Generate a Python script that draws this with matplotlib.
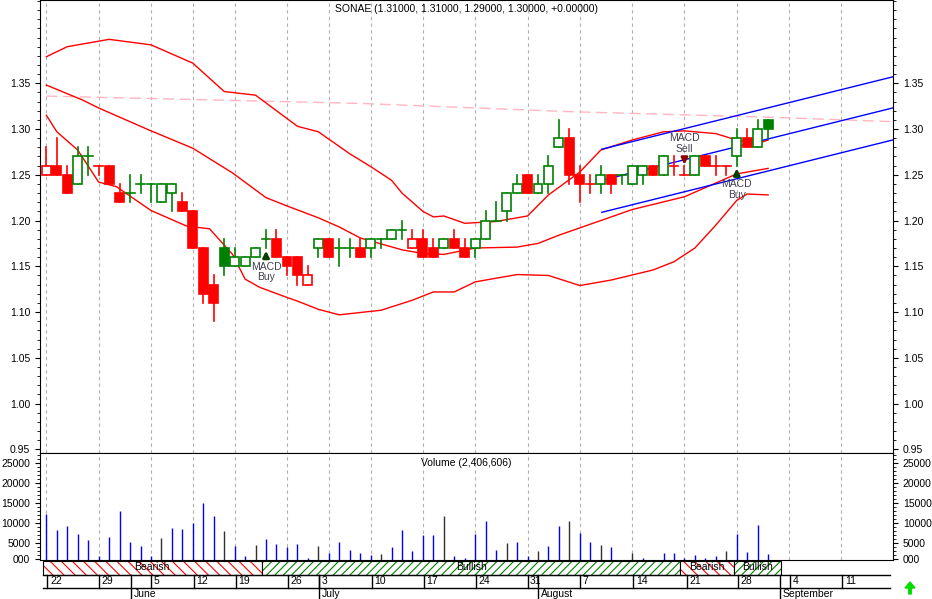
import matplotlib
matplotlib.use("Agg")
import matplotlib.pyplot as plt
from matplotlib.patches import Rectangle, FancyArrow
import numpy as np

plt.rcParams['font.family'] = 'Liberation Sans'
matplotlib.rcParams['hatch.linewidth'] = 0.8

title = "SONAE (1.31000, 1.31000, 1.29000, 1.30000, +0.00000)"
vol_title = "Volume (2,406,606)"

opens  = [1.25,1.26,1.25,1.24,1.27,1.26,1.26,1.23,1.23,1.24,1.24,1.22,1.23,1.22,1.21,1.17,1.13,1.17,1.15,1.15,
          1.16,1.18,1.18,1.16,1.16,1.13,1.17,1.18,1.17,1.17,1.17,1.17,1.18,1.18,1.19,1.17,1.18,1.17,1.17,1.18,
          1.17,1.17,1.18,1.20,1.21,1.23,1.25,1.23,1.24,1.28,1.29,1.25,1.24,1.24,1.25,1.25,1.24,1.25,1.26,1.25,
          1.26,1.25,1.25,1.27,1.26,1.26,1.27,1.29,1.28,1.31]
highs  = [1.28,1.29,1.26,1.28,1.28,1.26,1.26,1.24,1.25,1.25,1.24,1.24,1.24,1.23,1.21,1.17,1.14,1.18,1.17,1.16,
          1.17,1.19,1.19,1.16,1.16,1.15,1.18,1.18,1.18,1.18,1.18,1.18,1.18,1.19,1.20,1.19,1.19,1.18,1.18,1.19,
          1.18,1.18,1.21,1.22,1.23,1.25,1.25,1.25,1.27,1.31,1.30,1.26,1.25,1.26,1.25,1.25,1.26,1.26,1.26,1.27,
          1.27,1.26,1.27,1.27,1.27,1.26,1.30,1.30,1.31,1.31]
lows   = [1.25,1.25,1.23,1.24,1.25,1.25,1.24,1.22,1.22,1.23,1.22,1.22,1.21,1.21,1.17,1.11,1.09,1.14,1.15,1.15,
          1.16,1.17,1.16,1.14,1.13,1.13,1.16,1.16,1.15,1.16,1.16,1.16,1.17,1.18,1.18,1.17,1.16,1.16,1.17,1.17,
          1.16,1.16,1.18,1.20,1.20,1.23,1.23,1.23,1.23,1.28,1.24,1.22,1.23,1.23,1.23,1.24,1.24,1.24,1.25,1.25,
          1.25,1.25,1.25,1.26,1.25,1.25,1.26,1.28,1.28,1.29]
closes = [1.26,1.25,1.23,1.27,1.27,1.26,1.24,1.22,1.23,1.24,1.24,1.24,1.24,1.21,1.17,1.12,1.11,1.15,1.16,1.16,
          1.17,1.18,1.16,1.15,1.14,1.14,1.18,1.16,1.17,1.17,1.16,1.18,1.18,1.19,1.19,1.18,1.16,1.16,1.18,1.17,
          1.16,1.18,1.20,1.20,1.23,1.24,1.23,1.24,1.26,1.29,1.25,1.24,1.24,1.25,1.24,1.25,1.26,1.26,1.25,1.27,
          1.26,1.25,1.27,1.26,1.26,1.26,1.29,1.28,1.30,1.30]
day_dir = "rrrggrrrgggggrrrrgggggrrrrgrggrggggrrrgrrgggggrgggrrrgrgggrgrrgrrrgrgg"

volumes = [12260,8300,9270,7340,5650,1770,6610,12900,5160,4190,1770,6130,8790,8550,10000,15080,11690,8060,4190,1770,
           4440,5890,4680,3950,4680,1370,4190,2500,5160,3230,2500,2020,2260,3950,8300,2980,7100,7100,11690,1770,
           1130,7340,10480,3230,4920,5160,1770,2980,4190,9270,10480,7580,5160,4440,3950,300,2500,1370,300,2500,
           2500,1370,2020,1370,1770,2980,7340,2740,9520,2260]
vol_dark = [11,17,20,26,32,38,44,47,50,53,56,65]

band_upper_x = [0,2,6,10,14,17,20,24,26,29,31,33,34,36,37,38,40,43,46,48,51,53,56,59,61,64,66,68,69]
band_upper_y = [1.379,1.390,1.398,1.392,1.372,1.341,1.337,1.303,1.297,1.273,1.259,1.244,1.230,1.210,1.204,1.205,
                1.197,1.199,1.205,1.228,1.253,1.277,1.288,1.297,1.298,1.295,1.288,1.284,1.288]
band_mid_x = [0,3.4,5,9.8,14,17.8,21,23,26,28,30,34,36,38,41,45,47,49,52,56,61,64,66,69]
band_mid_y = [1.348,1.332,1.323,1.299,1.279,1.252,1.225,1.216,1.203,1.193,1.181,1.168,1.164,1.163,1.170,1.171,
              1.175,1.184,1.196,1.212,1.226,1.241,1.251,1.257]
band_low_x = [0,1,3,5,6.7,10,13.4,15.6,17.8,19,20.4,23,24,26,28,32,35,37,39,41,45,48,51,54,58,60,62,64,66,67,69]
band_low_y = [1.315,1.297,1.277,1.242,1.237,1.211,1.194,1.191,1.163,1.136,1.127,1.116,1.112,1.103,1.097,1.102,
              1.113,1.122,1.122,1.133,1.141,1.140,1.129,1.135,1.146,1.155,1.170,1.195,1.222,1.229,1.228]
ma_x = [0,30,50,69,81]
ma_y = [1.336,1.328,1.319,1.313,1.308]
chan_x = [53.1,80.9]
chan_upper = [1.278,1.357]
chan_mid = [1.244,1.323]
chan_lower = [1.209,1.288]

signals = [(21,'Buy',1.166),(61,'Sell',1.262),(66,'Buy',1.256)]

sentiment = [(-0.35,20.6,'Bearish'),(20.6,60.6,'Bullish'),(60.6,65.7,'Bearish'),(65.7,70.2,'Bullish')]
grid_idx = [0,5,10,14,18,23,27,31,36,41,46,51,56,61,66,71,76]
day_labels = ['22','29','5','12','19','26','3','10','17','24','31','7','14','21','28','4','11']
day_pos = [0.1,5.0,10.0,14.1,18.1,23.1,26.1,31.1,36.1,41.1,46.0,51.0,56.1,61.2,66.1,71.1,76.1]
months = ['June','July','August','September']
month_pos = [8.1,26.1,47.0,70.1]

W, H = 932, 599
fig = plt.figure(figsize=(W/100, H/100), dpi=100)
X0, X1 = 40/W, 893/W
def ax_rect(top, bot):
    return [X0, 1-bot/H, X1-X0, (bot-top)/H]
xlim = (-0.61, 80.94)

ax = fig.add_axes(ax_rect(0, 453))
ax.set_xlim(*xlim); ax.set_ylim(0.946, 1.441)
for g in grid_idx:
    ax.axvline(g, color='#b0b0b0', ls=(0,(3,3)), lw=0.8, zorder=0)
ax.plot(ma_x, ma_y, color='#ffb6c1', lw=1, ls=(0,(8,4)))
for bx, by in [(band_upper_x, band_upper_y), (band_mid_x, band_mid_y), (band_low_x, band_low_y)]:
    ax.plot(bx, by, color='red', lw=1)
for cy in (chan_upper, chan_mid, chan_lower):
    ax.plot(chan_x, cy, color='blue', lw=1)
bw = 0.85
for i in range(len(opens)):
    o, h, l, c = opens[i], highs[i], lows[i], closes[i]
    col = '#008000' if day_dir[i] == 'g' else '#ff0000'
    ax.plot([i, i], [l, h], color=col, lw=1.2, zorder=3)
    if abs(o-c) < 1e-9:
        ax.plot([i-bw/2, i+bw/2], [c, c], color=col, lw=1.2, zorder=4)
    else:
        lo, hi = min(o, c), max(o, c)
        filled = c < o
        ax.add_patch(Rectangle((i-bw/2, lo), bw, hi-lo, facecolor=col if filled else 'white',
                               edgecolor=col, lw=1.2, zorder=4))
for idx, kind, yv in signals:
    if kind == 'Buy':
        ax.annotate('', xy=(idx, yv+0.004), xytext=(idx, yv-0.010),
                    arrowprops=dict(arrowstyle='-|>', color='#004000', lw=2, mutation_scale=9), zorder=6)
        ax.text(idx, yv-0.011, 'MACD\nBuy', ha='center', va='top', fontsize=7.5, color='#404050',
                linespacing=1.05, zorder=6)
    else:
        ax.annotate('', xy=(idx, yv-0.004), xytext=(idx, yv+0.010),
                    arrowprops=dict(arrowstyle='-|>', color='#900000', lw=2, mutation_scale=9), zorder=6)
        ax.text(idx, yv+0.011, 'MACD\nSell', ha='center', va='bottom', fontsize=7.5, color='#404050',
                linespacing=1.05, zorder=6)
ax.set_yticks(np.arange(0.95, 1.351, 0.05))
ax.set_yticks(np.arange(0.95, 1.441, 0.01), minor=True)
ax.set_xticks([])
ax.tick_params(axis='y', which='both', left=True, right=True, labelleft=True, labelright=True,
               labelsize=7.5, direction='out')
ax.tick_params(axis='y', which='minor', length=2)
ax.yaxis.set_major_formatter(matplotlib.ticker.FormatStrFormatter('%.2f'))
ax.text(0.5, 0.992, title, transform=ax.transAxes, ha='center', va='top', fontsize=7.5)

av = fig.add_axes(ax_rect(453, 560))
av.set_xlim(*xlim); av.set_ylim(750, 27500)
for g in grid_idx:
    av.axvline(g, color='#b0b0b0', ls=(0,(3,3)), lw=0.8, zorder=0)
vcols = ['#303030' if i in vol_dark else '#0000ff' for i in range(len(volumes))]
av.vlines(np.arange(len(volumes)), 750, volumes, colors=vcols, lw=1)
av.set_xticks([])
av.set_yticks([1000, 5000, 10000, 15000, 20000, 25000])
av.set_yticklabels(['000', '5000', '10000', '15000', '20000', '25000'])
av.set_yticks(np.arange(1000, 27001, 1000), minor=True)
av.tick_params(axis='y', which='both', left=True, right=True, labelleft=True, labelright=True,
               labelsize=7.5, direction='out')
av.tick_params(axis='y', which='minor', length=2)
av.text(0.5, 0.95, vol_title, transform=av.transAxes, ha='center', va='top', fontsize=7.5)

ab = fig.add_axes(ax_rect(560, 599))
ab.set_xlim(*xlim); ab.set_ylim(0, 39)
ab.axis('off')
for s, e, name in sentiment:
    col = 'red' if name == 'Bearish' else 'green'
    ab.add_patch(Rectangle((s, 24.5), e-s, 14, facecolor='white', edgecolor=col,
                           hatch='\\\\\\' if name == 'Bearish' else '////', lw=0))
    ab.add_patch(Rectangle((s, 24.5), e-s, 14, facecolor='none', edgecolor='black', lw=0.8))
    ab.text((s+e)/2, 31.5, name, ha='center', va='center', fontsize=7.5)
ab.plot([xlim[0]+0.3, 80.7], [24.5, 24.5], color='black', lw=1)
ab.plot([xlim[0]+0.3, 80.7], [11.5, 11.5], color='black', lw=1)
for p, lab in zip(day_pos, day_labels):
    ab.plot([p, p], [11.5, 24.5], color='black', lw=1)
    ab.text(p+0.25, 18, lab, ha='left', va='center', fontsize=7.5)
for p, lab in zip(month_pos, months):
    ab.plot([p, p], [0, 24.5], color='black', lw=1)
    ab.text(p+0.25, 5, lab, ha='left', va='center', fontsize=7.5)
fig.patches.append(FancyArrow(910/W, 1-594/H, 0, 12/H, width=2.5/W, head_width=10/W, head_length=6/H,
                              length_includes_head=True, color='#00dd00', transform=fig.transFigure))
fig.savefig('out.png', dpi=100)
